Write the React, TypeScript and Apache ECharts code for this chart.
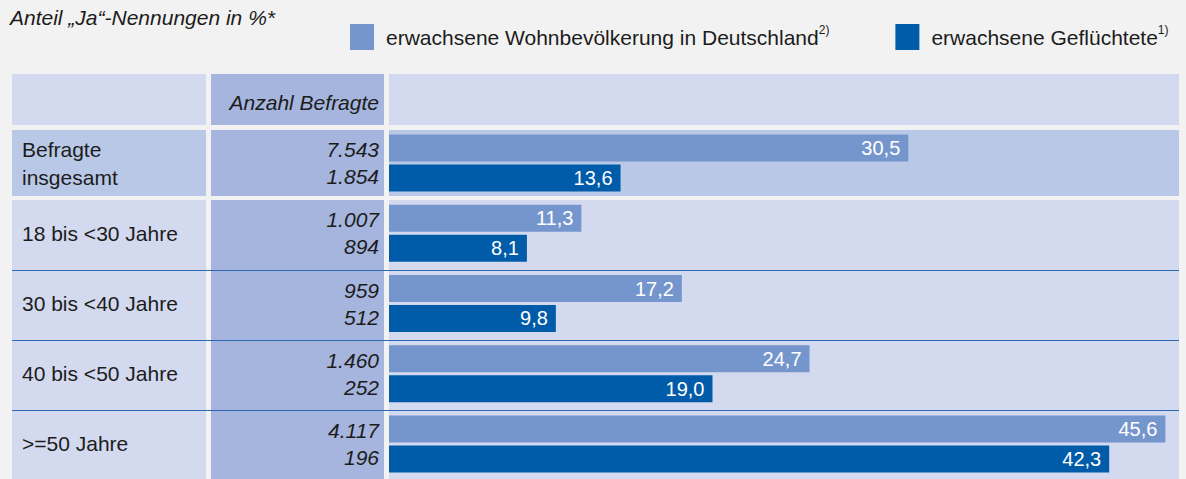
import React, { useEffect, useRef } from "react";
import * as echarts from "echarts";

const categories = ["Befragte\ninsgesamt", "18 bis <30 Jahre", "30 bis <40 Jahre", "40 bis <50 Jahre", ">=50 Jahre"];
const residentsPct = [30.5, 11.3, 17.2, 24.7, 45.6];
const refugeesPct = [13.6, 8.1, 9.8, 19.0, 42.3];
const residentsN = [7543, 1007, 959, 1460, 4117];
const refugeesN = [1854, 894, 512, 252, 196];
const seriesNames = ["erwachsene Wohnbevölkerung in Deutschland", "erwachsene Geflüchtete"];
const seriesNotes = ["2)", "1)"];
const titleText = "Anteil \u201EJa\u201C-Nennungen in %*";
const countHeader = "Anzahl Befragte";

const FONT = "'Liberation Sans', Arial, sans-serif";
const TEXT = "#1c1c1c";
const LIGHT = "#7596cd";
const DARK = "#005ca8";
const ROW_BG = "#d3d9ee";
const ROW1_BG = "#bac8e8";
const COL2_BG = "#a5b5dd";
const SEP = "#2d68b0";

const fmtInt = (n: number) => String(n).replace(/\B(?=(\d{3})+(?!\d))/g, ".");
const fmtPct = (v: number) => v.toFixed(1).replace(".", ",");

export default function App() {
  const ref = useRef<HTMLDivElement>(null);
  useEffect(() => {
    if (!ref.current) return;
    const chart = echarts.init(ref.current, undefined, { renderer: "svg" });

    const rect = (x: number, y: number, w: number, h: number, fill: string) => ({
      type: "rect",
      z: -10,
      shape: { x, y, width: w, height: h },
      style: { fill },
      silent: true,
    });
    const hline = (y: number) => ({
      type: "line",
      z: -9,
      shape: { x1: 12, y1: y, x2: 1179, y2: y },
      style: { stroke: SEP, lineWidth: 1 },
      silent: true,
    });

    const option: any = {
      animation: false,
      backgroundColor: "#f2f2f2",
      textStyle: { fontFamily: FONT },
      legend: {
        left: 345,
        top: 19,
        itemWidth: 24,
        itemHeight: 26,
        itemGap: 66,
        icon: "rect",
        selectedMode: false,
        data: seriesNames,
        formatter: (name: string) => {
          const i = seriesNames.indexOf(name);
          return `{t|${name}}{s|${seriesNotes[i]}}`;
        },
        textStyle: {
          fontFamily: FONT,
          color: TEXT,
          rich: {
            t: { fontSize: 21, fontFamily: FONT, color: TEXT, padding: [0, 0, 0, 7], lineHeight: 26 },
            s: { fontSize: 12, fontFamily: FONT, color: TEXT, verticalAlign: "top", lineHeight: 26 },
          },
        },
      },
      grid: { left: 389, right: 7, top: 128, height: 355, containLabel: false },
      xAxis: { type: "value", min: 0, max: 46.4, show: false },
      yAxis: [
        {
          type: "category",
          data: categories,
          inverse: true,
          position: "left",
          axisLine: { show: false },
          axisTick: { show: false },
          splitLine: { show: false },
          axisLabel: {
            align: "left",
            margin: 367,
            fontSize: 21,
            lineHeight: 28,
            color: TEXT,
            fontFamily: FONT,
          },
        },
        {
          type: "category",
          data: categories,
          inverse: true,
          position: "left",
          axisLine: { show: false },
          axisTick: { show: false },
          splitLine: { show: false },
          axisLabel: {
            align: "right",
            margin: 10,
            fontSize: 21,
            fontStyle: "italic",
            lineHeight: 27,
            color: TEXT,
            fontFamily: FONT,
            formatter: (_v: string, i: number) => `${fmtInt(residentsN[i])}\n${fmtInt(refugeesN[i])}`,
          },
        },
      ],
      series: [
        {
          name: seriesNames[0],
          type: "bar",
          yAxisIndex: 0,
          data: residentsPct,
          barWidth: 27,
          barGap: "11%",
          itemStyle: { color: LIGHT },
          label: {
            show: true,
            position: "insideRight",
            distance: 8,
            color: "#ffffff",
            fontSize: 20,
            fontFamily: FONT,
            formatter: (p: any) => fmtPct(p.value),
          },
        },
        {
          name: seriesNames[1],
          type: "bar",
          yAxisIndex: 0,
          data: refugeesPct,
          barWidth: 27,
          barGap: "11%",
          itemStyle: { color: DARK },
          label: {
            show: true,
            position: "insideRight",
            distance: 8,
            color: "#ffffff",
            fontSize: 20,
            fontFamily: FONT,
            formatter: (p: any) => fmtPct(p.value),
          },
        },
      ],
      graphic: [
        {
          type: "text",
          x: 10,
          y: 17,
          style: {
            text: titleText,
            font: `italic 21px ${FONT}`,
            fill: TEXT,
            textAlign: "left",
            textVerticalAlign: "middle",
          },
        },
        // header
        rect(12, 74, 194, 51, ROW_BG),
        rect(211, 74, 173, 51, COL2_BG),
        rect(389, 74, 790, 51, ROW_BG),
        {
          type: "text",
          x: 379,
          y: 102,
          style: {
            text: countHeader,
            font: `italic 21px ${FONT}`,
            fill: TEXT,
            textAlign: "right",
            textVerticalAlign: "middle",
          },
        },
        // row 1
        rect(12, 130, 194, 66, ROW1_BG),
        rect(211, 130, 173, 66, COL2_BG),
        rect(389, 130, 790, 66, ROW1_BG),
        // rows 2-5
        rect(12, 200, 194, 290, ROW_BG),
        rect(211, 200, 173, 290, COL2_BG),
        rect(389, 200, 790, 290, ROW_BG),
        hline(270.5),
        hline(340.5),
        hline(410.5),
      ],
    };
    chart.setOption(option);
    return () => chart.dispose();
  }, []);
  return (
    <div
      ref={ref}
      style={{ position: "absolute", left: 0, top: 0, width: 1186, height: 479 }}
    />
  );
}
